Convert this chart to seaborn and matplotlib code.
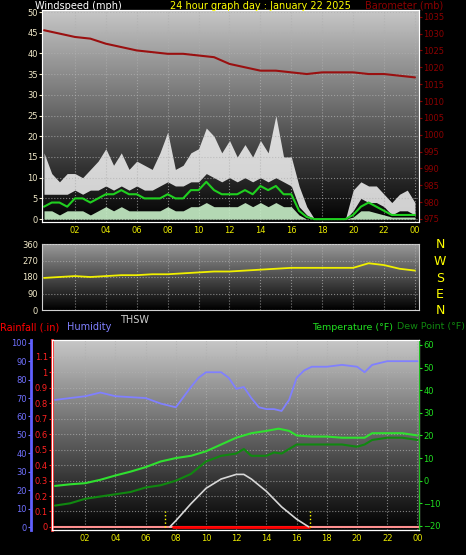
import numpy as np
import matplotlib
matplotlib.use('Agg')
import matplotlib.pyplot as plt
import seaborn as sns

sns.set_style('dark')
plt.rcParams['font.family'] = ['DejaVu Sans']

# ---- data ----
half_hours = [i * 0.5 for i in range(49)]
gust_hi = [16, 11, 9, 11, 11, 10, 12, 14, 17, 13, 16, 12, 14, 13, 12, 16, 21, 12, 13, 16,
           17, 22, 20, 16, 19, 15, 18, 15, 19, 16, 25, 15, 15, 8, 3, 0, 0, 0, 0, 0,
           7, 9, 8, 8, 6, 4, 6, 7, 4]
gust_lo = [6, 6, 6, 6, 7, 6, 7, 7, 8, 7, 8, 7, 8, 7, 7, 8, 9, 8, 8, 9,
           9, 11, 10, 9, 10, 9, 10, 9, 10, 9, 10, 9, 8, 3, 1, 0, 0, 0, 0, 0,
           2, 5, 4, 4, 3, 1, 2, 2, 1]
wind_avg = [3, 4, 4, 3, 5, 5, 4, 5, 6, 6, 7, 6, 6, 5, 5, 5, 6, 5, 5, 7,
            7, 9, 7, 6, 6, 6, 7, 6, 8, 7, 8, 6, 6, 2, 0.5, 0, 0, 0, 0, 0,
            1, 3, 4, 3, 2, 1, 1, 1, 1]
wind_low = [2, 2, 1, 2, 2, 2, 1, 2, 3, 2, 3, 2, 2, 2, 2, 2, 3, 2, 2, 3,
            3, 4, 3, 3, 3, 3, 4, 3, 4, 3, 4, 3, 3, 1, 0, 0, 0, 0, 0, 0,
            0.5, 2, 2, 1.5, 1, 0.5, 0.5, 0.5, 0.5]

hours = list(range(25))
baro = [1031, 1030, 1029, 1028.5, 1027, 1026, 1025, 1024.5, 1024, 1024, 1023.5, 1023, 1021,
        1020, 1019, 1019, 1018.5, 1018, 1018.5, 1018.5, 1018.5, 1018, 1018, 1017.5, 1017]
wind_dir = [175, 180, 185, 180, 185, 190, 190, 195, 195, 200, 205, 210, 210, 215, 220, 225,
            230, 230, 230, 230, 230, 255, 245, 225, 215]

hum_t = [0, 2, 3, 4, 6, 7, 8, 9, 9.5, 10, 11, 11.5, 12, 12.5, 13, 13.5, 14, 14.5, 15, 15.5,
         16, 16.5, 17, 18, 19, 20, 20.5, 21, 22, 23, 24]
humidity = [69, 71, 73, 71, 70, 67, 65, 76, 81, 84, 84, 81, 75, 76, 70, 65, 64, 64, 63, 69,
            81, 85, 87, 87, 88, 87, 84, 88, 90, 90, 90]
temp_t = [0, 1, 2, 3, 4, 5, 6, 7, 8, 9, 10, 11, 12, 13, 14, 14.8, 15.5, 16, 17, 18, 19, 20,
          20.5, 21, 22, 23, 24]
temperature = [-2.3, -1.6, -1.1, 0.4, 2.3, 4, 6, 8.5, 10, 11, 13, 16, 19, 21, 22, 23, 22, 20,
               19.5, 19.5, 19, 19, 19, 21, 21, 21, 20]
dew_t = [0, 1, 2, 3, 4, 5, 6, 7, 8, 9, 10, 11, 12, 12.5, 13, 14, 14.5, 15, 16, 17, 18, 19, 20,
         20.5, 21, 22, 23, 24]
dewpoint = [-11, -10, -8, -7, -6, -5, -3, -2, 0, 3, 8.5, 11, 12, 14, 11, 11, 12.5, 12, 16, 16,
            16, 16, 15, 16, 18, 19, 19, 18]
sun_t = [7.6, 8, 9, 10, 11, 12, 12.5, 13, 14, 15, 16, 16.8]
thsw = [0, 0.04, 0.15, 0.25, 0.31, 0.34, 0.34, 0.31, 0.23, 0.13, 0.05, 0]
sunrise, sunset = 7.3, 16.9

xt = list(range(2, 25, 2))
xtl = ['%02d' % (h % 24) for h in xt]

W, H = 466, 555
fig = plt.figure(figsize=(W / 100, H / 100), dpi=100, facecolor='black')


def box(x0, y0, x1, y1):
    return fig.add_axes([x0 / W, 1 - y1 / H, (x1 - x0) / W, (y1 - y0) / H])


def gradient(ax, top=0.78):
    g = np.linspace(top, 0.0, 200).reshape(-1, 1)
    ax.imshow(g, cmap='gray', vmin=0, vmax=1, aspect='auto', extent=[0, 1, 0, 1],
              transform=ax.transAxes, zorder=0)


def style(ax, fg='#f0e8c8'):
    ax.set_facecolor('black')
    ax.grid(True, color='#b0b0b0', ls=':', lw=0.8, alpha=0.7)
    ax.set_axisbelow(False)
    for s in ax.spines.values():
        s.set_color('#d0d0d0')
    ax.tick_params(colors=fg, labelsize=6, length=2, pad=1)
    ax.set_xlabel('')
    ax.set_ylabel('')


# ---- panel 1: wind + barometer ----
ax1 = box(42, 10, 419, 222)
gradient(ax1)
ax1.fill_between(half_hours, gust_lo, gust_hi, color='#f4f4f4', alpha=0.85, lw=0, zorder=2)
ax1.fill_between(half_hours, 0, wind_low, color='#c8f0c8', alpha=0.9, lw=0, zorder=3)
sns.lineplot(x=half_hours, y=wind_avg, ax=ax1, color='#20d020', lw=1.5, zorder=4)
ax1.set_xlim(-0.13, 24.26)
ax1.set_ylim(-0.7, 50.5)
ax1.set_yticks(range(0, 51, 5))
ax1.set_xticks(xt)
ax1.set_xticklabels(xtl)
style(ax1)
ax1.tick_params(axis='x', colors='#e8e800')
ax1b = ax1.twinx()
sns.lineplot(x=hours, y=baro, ax=ax1b, color='#9a1010', lw=1.5)
ax1b.set_ylim(974.1, 1037)
ax1b.set_yticks(range(975, 1036, 5))
ax1b.tick_params(colors='#8b0000', labelsize=6, length=2, pad=1)
ax1b.set_ylabel('')
ax1b.grid(False)
fig.text(35 / W, 1 - 6 / H, 'Windspeed (mph)', color='white', fontsize=7, va='center')
fig.text(260 / W, 1 - 6 / H, '24 hour graph day : January 22 2025', color='#ffff00',
         fontsize=7, va='center', ha='center')
fig.text(443 / W, 1 - 6 / H, 'Barometer (mb)', color='#8b0000', fontsize=7, va='center',
         ha='right')

# ---- panel 2: wind direction ----
ax2 = box(42, 244, 419, 310)
gradient(ax2, 0.6)
sns.lineplot(x=hours, y=wind_dir, ax=ax2, color='#f0f000', lw=1.3, zorder=3)
ax2.set_xlim(-0.13, 24.26)
ax2.set_ylim(0, 360)
ax2.set_yticks([0, 90, 180, 270, 360])
ax2.set_xticks(xt)
ax2.set_xticklabels([])
style(ax2)
for i, c in enumerate('NWSEN'):
    fig.text(440 / W, 1 - (245 + i * 16.5) / H, c, color='#ffff00', fontsize=9,
             ha='center', va='center')
fig.text(120 / W, 1 - 320 / H, 'THSW', color='#d0d0d0', fontsize=7, va='center')

# ---- panel 3: rain, humidity, temperature ----
ax3 = box(52, 340, 419, 530)
gradient(ax3)
ax3.set_xlim(-0.2, 24.1)
ax3.set_ylim(-0.02, 1.21)
ax3.set_yticks([0, 0.1, 0.2, 0.3, 0.4, 0.5, 0.6, 0.7, 0.8, 0.9, 1, 1.1])
ax3.set_yticklabels(['0', '0.1', '0.2', '0.3', '0.4', '0.5', '0.6', '0.7', '0.8', '0.9',
                     '1', '1.1'])
ax3.axhline(0, color='#ff9090', lw=1.5, zorder=3)
ax3.plot([7.8, 16.8], [0, 0], color='red', lw=2, zorder=4)
sns.lineplot(x=sun_t, y=thsw, ax=ax3, color='#d8d8d8', lw=1.2, zorder=4)
for s in (sunrise, sunset):
    ax3.plot([s, s], [0, 0.1], color='#ffff00', ls=':', lw=1, zorder=4)
ax3.set_xticks(xt)
ax3.set_xticklabels(xtl)
style(ax3, '#ff2020')
ax3.tick_params(axis='x', colors='#e8e800')
ax3.spines['left'].set_color('#ff3030')
ax3.spines['left'].set_linewidth(2)

axh = ax3.twinx()
sns.lineplot(x=hum_t, y=humidity, ax=axh, color='#8080ff', lw=1.3)
axh.set_ylim(-1.6, 101.5)
axh.set_yticks(range(0, 101, 10))
axh.yaxis.set_ticks_position('left')
axh.spines['left'].set_position(('outward', 15))
axh.spines['left'].set_color('#6060ff')
axh.spines['left'].set_linewidth(2)
axh.tick_params(colors='#7070ff', labelsize=6, length=2, pad=1)
axh.set_ylabel('')
axh.grid(False)

axt = ax3.twinx()
sns.lineplot(x=temp_t, y=temperature, ax=axt, color='#30e030', lw=1.5)
sns.lineplot(x=dew_t, y=dewpoint, ax=axt, color='#108810', lw=1.5)
axt.set_ylim(-21.8, 62.2)
axt.set_yticks(range(-20, 61, 10))
axt.spines['right'].set_color('#20c020')
axt.tick_params(colors='#20e020', labelsize=6, length=2, pad=1)
axt.set_ylabel('')
axt.grid(False)

fig.text(0, 1 - 327 / H, 'Rainfall (.in)', color='red', fontsize=7, va='center')
fig.text(67 / W, 1 - 327 / H, 'Humidity', color='#8080ff', fontsize=7, va='center')
fig.text(312 / W, 1 - 327 / H, 'Temperature (\u00b0F)', color='#20e020', fontsize=6.8,
         va='center')
fig.text(465 / W, 1 - 327 / H, 'Dew Point (\u00b0F)', color='#108810', fontsize=6.8,
         va='center', ha='right')

fig.savefig('out.png', dpi=100, facecolor='black')
